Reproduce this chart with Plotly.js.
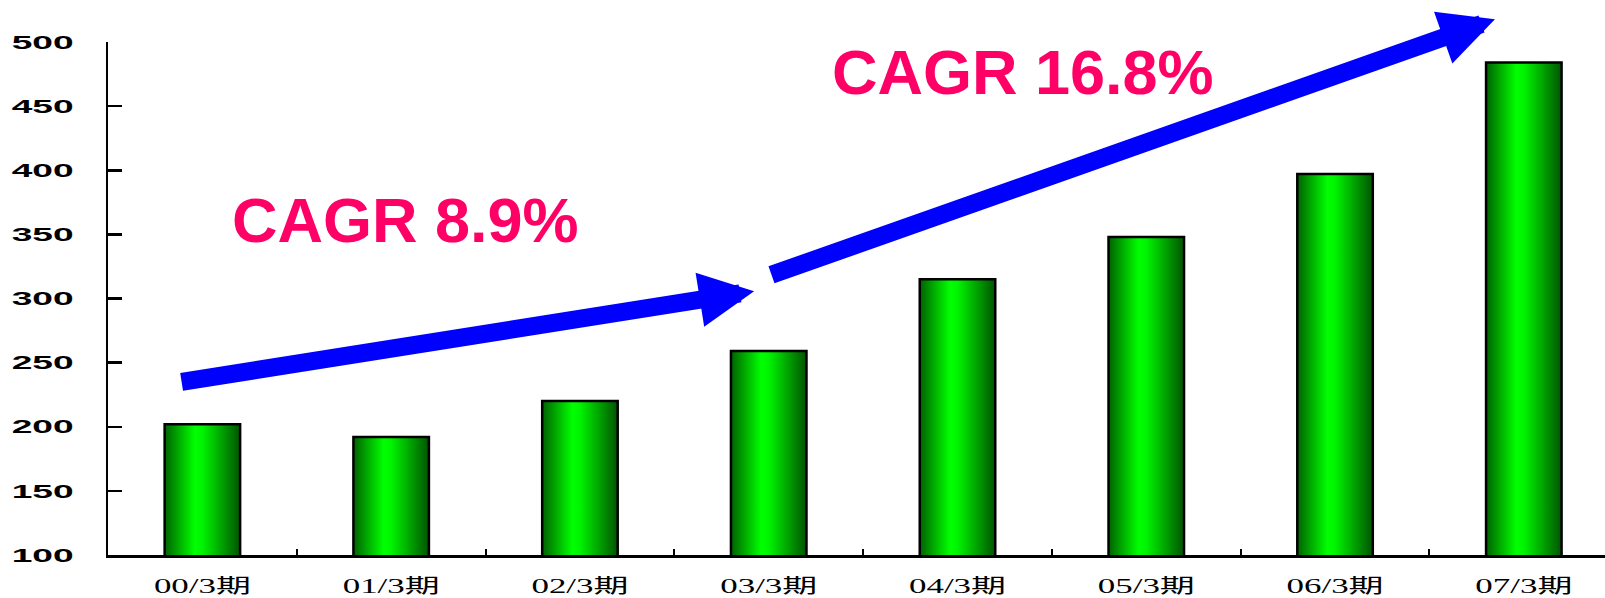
<!DOCTYPE html>
<html>
<head>
<meta charset="utf-8">
<script src="https://cdn.plot.ly/plotly-3.0.1.min.js"></script>
<style>html,body{margin:0;padding:0;background:#fff;overflow:hidden}</style>
</head>
<body>
<div id="chart" style="width:1605px;height:598px"></div>
<script>
// ---- data ----
const periods = ['00/3期','01/3期','02/3期','03/3期','04/3期','05/3期','06/3期','07/3期'];
const sales = [202, 192, 220, 259, 315, 348, 397, 484];
const yTickVals = [100, 150, 200, 250, 300, 350, 400, 450, 500];
const cagrLabels = ['CAGR 8.9%', 'CAGR 16.8%'];

const trace = {
  type: 'bar',
  x: periods,
  y: sales,
  width: 0.4,
  marker: { color: '#00dd00', line: { color: '#000000', width: 2.5 } },
  hoverinfo: 'skip'
};

const layout = {
  width: 1605, height: 598,
  margin: { l: 108, r: 0, t: 42, b: 43, pad: 0 },
  paper_bgcolor: '#ffffff', plot_bgcolor: '#ffffff',
  showlegend: false,
  bargap: 0.6,
  xaxis: {
    type: 'category',
    range: [-0.5, 7.43],
    showline: true, linecolor: '#000', linewidth: 2.5,
    ticks: 'inside', ticklen: 6, tickwidth: 2, tickcolor: '#000',
    tickson: 'boundaries',
    showgrid: false, zeroline: false,
    tickfont: { family: '"Liberation Serif", "Noto Sans CJK JP", serif', size: 20, color: '#000' },
    ticklabelstandoff: 11,
    automargin: false, fixedrange: true
  },
  yaxis: {
    range: [100, 500],
    tickvals: yTickVals,
    showline: true, linecolor: '#000', linewidth: 2.5,
    ticks: 'inside', ticklen: 14, tickwidth: 2.5, tickcolor: '#000',
    showgrid: false, zeroline: false,
    tickfont: { family: '"Liberation Sans", Arial, sans-serif', size: 19, color: '#000', weight: 'bold' },
    ticklabelstandoff: 28,
    automargin: false, fixedrange: true
  },
  annotations: [
    // arrow 1
    { xref: 'paper', yref: 'paper', x: 0.4316, y: 0.5143, ax: -574, ay: 91,
      text: '', showarrow: true, arrowhead: 2, arrowsize: 0.61, arrowwidth: 18, arrowcolor: '#0000ff' },
    // arrow 2
    { xref: 'paper', yref: 'paper', x: 0.9265, y: 1.0442, ax: -725, ay: 256,
      text: '', showarrow: true, arrowhead: 2, arrowsize: 0.61, arrowwidth: 18, arrowcolor: '#0000ff' },
    { xref: 'paper', yref: 'paper', x: 0.1986, y: 0.6526, xanchor: 'center', yanchor: 'middle',
      text: cagrLabels[0], showarrow: false,
      font: { family: '"Liberation Sans", Arial, sans-serif', size: 63, color: '#ff0066', weight: 'bold' } },
    { xref: 'paper', yref: 'paper', x: 0.6113, y: 0.9416, xanchor: 'center', yanchor: 'middle',
      text: cagrLabels[1], showarrow: false,
      font: { family: '"Liberation Sans", Arial, sans-serif', size: 63, color: '#ff0066', weight: 'bold' } }
  ]
};

Plotly.newPlot('chart', [trace], layout, { displayModeBar: false, staticPlot: true }).then(function (gd) {
  const ns = 'http://www.w3.org/2000/svg';
  const svg = gd.querySelector('.main-svg');
  let defs = svg.querySelector('defs');
  if (!defs) { defs = document.createElementNS(ns, 'defs'); svg.insertBefore(defs, svg.firstChild); }
  const lg = document.createElementNS(ns, 'linearGradient');
  lg.setAttribute('id', 'barGrad');
  lg.setAttribute('x1', '0'); lg.setAttribute('y1', '0');
  lg.setAttribute('x2', '1'); lg.setAttribute('y2', '0');
  [[0, '#006200'], [0.4, '#00ff00'], [0.5, '#00f400'], [1, '#005400']].forEach(function (s) {
    const st = document.createElementNS(ns, 'stop');
    st.setAttribute('offset', s[0]);
    st.setAttribute('stop-color', s[1]);
    lg.appendChild(st);
  });
  defs.appendChild(lg);
  gd.querySelectorAll('.bars .point path').forEach(function (p) {
    p.style.fill = 'url(#barGrad)';
  });
  gd.querySelectorAll('.ytick text').forEach(function (t) {
    t.setAttribute('textLength', '62');
    t.setAttribute('lengthAdjust', 'spacingAndGlyphs');
  });
  gd.querySelectorAll('.xtick text').forEach(function (t) {
    t.setAttribute('textLength', '97');
    t.setAttribute('lengthAdjust', 'spacingAndGlyphs');
  });
});
</script>
</body>
</html>
